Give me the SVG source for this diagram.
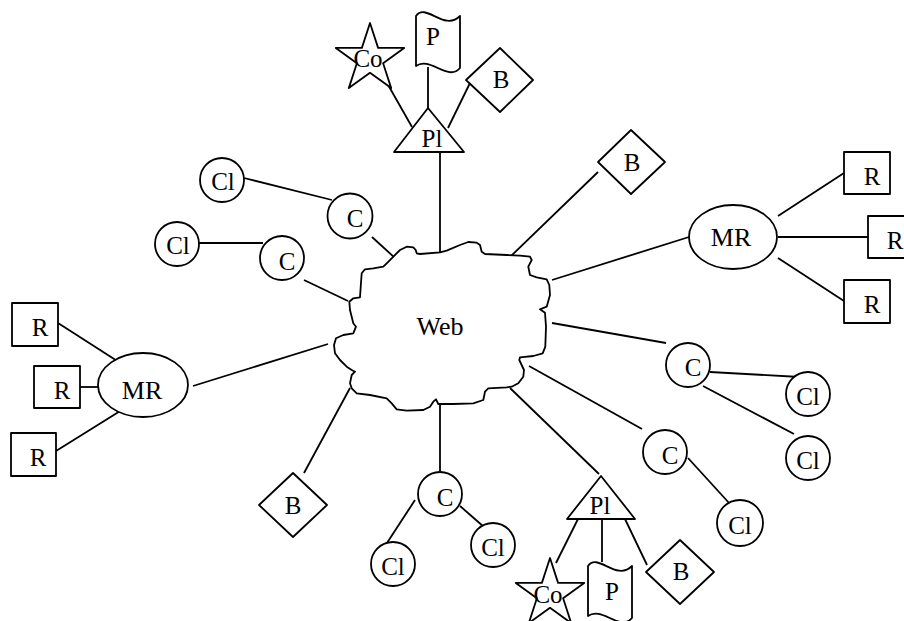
<svg xmlns="http://www.w3.org/2000/svg" width="904" height="621" viewBox="0 0 904 621">
  <defs>
    <style>
      .shape { fill: #ffffff; stroke: #000000; stroke-width: 1.8; stroke-linejoin: round; }
      .edge { stroke: #000000; stroke-width: 1.8; fill: none; stroke-linecap: butt; }
      .lbl { font-family: "Liberation Serif", "Times New Roman", serif; font-size: 25px; fill: #000000; text-anchor: middle; }
      .big { font-size: 26px; }
    </style>
    <!-- five-pointed star, outer radius 36 -->
    <polygon id="star" points="0,-36 8.1,-11.1 34.2,-11.1 13.1,4.2 21.2,29.1 0,13.8 -21.2,29.1 -13.1,4.2 -34.2,-11.1 -8.1,-11.1"/>
    <!-- wavy banner -->
    <path id="wave" d="M0,0 C10,-14 28,16 44,0 L44,52 C32,66 14,40 0,50 Z"/>
  </defs>
  <rect width="904" height="621" fill="#ffffff"/>

  <!-- connectors -->
  <g id="connectors" class="edge">
    <!-- upper portal cluster -->
    <line x1="387" y1="83" x2="412" y2="127"/>
    <line x1="428" y1="67" x2="428" y2="108"/>
    <line x1="470" y1="83" x2="448" y2="128"/>
    <line x1="440" y1="152" x2="440" y2="259"/>
    <!-- upper-left clients -->
    <line x1="244" y1="178" x2="332" y2="200"/>
    <line x1="372" y1="237" x2="395" y2="258"/>
    <line x1="199" y1="243" x2="263" y2="243"/>
    <line x1="304" y1="280" x2="348" y2="301"/>
    <!-- upper-right broker -->
    <line x1="598" y1="172" x2="510" y2="257"/>
    <!-- right meta-repository -->
    <line x1="552" y1="280" x2="689" y2="237"/>
    <line x1="778" y1="216" x2="844" y2="173"/>
    <line x1="778" y1="237" x2="868" y2="237"/>
    <line x1="778" y1="258" x2="844" y2="301"/>
    <!-- left meta-repository -->
    <line x1="193" y1="386" x2="328" y2="344"/>
    <line x1="58" y1="323" x2="125" y2="366"/>
    <line x1="80" y1="387" x2="102" y2="387"/>
    <line x1="56" y1="451" x2="125" y2="408"/>
    <!-- lower-left broker -->
    <line x1="304" y1="473" x2="350" y2="388"/>
    <!-- bottom client -->
    <line x1="440" y1="404" x2="440" y2="473"/>
    <line x1="415" y1="500" x2="385" y2="546"/>
    <line x1="460" y1="506" x2="484" y2="527"/>
    <!-- lower portal cluster -->
    <line x1="510" y1="388" x2="599" y2="474"/>
    <line x1="578" y1="519" x2="556" y2="563"/>
    <line x1="602" y1="519" x2="602" y2="562"/>
    <line x1="625" y1="519" x2="647" y2="565"/>
    <!-- right clients -->
    <line x1="552" y1="323" x2="666" y2="343"/>
    <line x1="710" y1="372" x2="800" y2="377"/>
    <line x1="703" y1="386" x2="794" y2="434"/>
    <line x1="529" y1="366" x2="642" y2="429"/>
    <line x1="688" y1="458" x2="730" y2="504"/>
  </g>

  <!-- central cloud -->
  <g id="web">
    <path class="shape" d="M391.7,258.3 L400,250 L406.7,246.7 L413.3,247.3 L415.7,250 L416.7,253.3 L420,254 L440,252.3 L446.7,250.7 L460,245 L468.3,242 L476.7,242.7 L480,245 L481.7,251.7 L485,254 L506.7,255 L520,255.7 L530,256.7 L531.7,260 L528.3,266.7 L530,275 L536.7,277.3 L546.7,279.3 L549.3,285 L550,295 L546.7,306.7 L540,309.3 L545,312.7 L546,326.7 L545.3,346.7 L542.7,353.3 L533.3,356 L520,357.3 L519.3,360 L524,370 L523.3,376.7 L518.3,383.3 L511.7,386.7 L506.7,387.3 L488.3,388.3 L485,391.7 L483.3,400 L473.3,403.3 L453.3,404 L438.3,404 L436,399.3 L433.3,401.7 L430,406.7 L423.3,410 L406.7,410.7 L396.7,409.3 L391.7,403.3 L386.7,398.3 L370,395 L356.7,393.3 L351.7,388.3 L350,383.3 L351.7,375 L355,371.7 L351.7,370 L346.7,366.7 L340,360 L335,353.3 L334,345 L336,338.3 L343.3,335 L353.3,333.3 L356,326.7 L353.3,323.3 L350,310 L349.3,301.7 L353.3,298.3 L360,297.3 L360.7,286.7 L361.7,273.3 L365,269.3 L373.3,268.3 L383.3,266.7 L386.7,263.3 Z"/>
    <text class="lbl big" x="440" y="335">Web</text>
  </g>

  <!-- upper portal cluster -->
  <g id="pl-top">
    <polygon class="shape" points="428,108 394,152 464,152"/>
    <text class="lbl" x="432" y="147">Pl</text>
  </g>
  <g id="co-top">
    <use href="#star" class="shape" transform="translate(370,59)"/>
    <text class="lbl" x="368" y="67">Co</text>
  </g>
  <g id="p-top">
    <use href="#wave" class="shape" transform="translate(416,16)"/>
    <text class="lbl" x="433" y="45">P</text>
  </g>
  <g id="b-top">
    <polygon class="shape" points="466,80 500,48 533,80 500,112"/>
    <text class="lbl" x="501" y="88">B</text>
  </g>

  <!-- upper-left clients -->
  <g id="cl-1">
    <circle class="shape" cx="222" cy="180" r="22"/>
    <text class="lbl" x="223" y="190">Cl</text>
  </g>
  <g id="c-1">
    <circle class="shape" cx="350" cy="216" r="22.5"/>
    <text class="lbl" x="355" y="227">C</text>
  </g>
  <g id="cl-2">
    <circle class="shape" cx="177" cy="244" r="22"/>
    <text class="lbl" x="178" y="254">Cl</text>
  </g>
  <g id="c-2">
    <circle class="shape" cx="282" cy="258" r="22"/>
    <text class="lbl" x="287" y="270">C</text>
  </g>

  <!-- upper-right broker -->
  <g id="b-right">
    <polygon class="shape" points="598,162 631,130 665,162 631,194"/>
    <text class="lbl" x="632" y="171">B</text>
  </g>

  <!-- right meta-repository -->
  <g id="mr-right">
    <ellipse class="shape" cx="733" cy="237" rx="44" ry="32"/>
    <text class="lbl big" x="731" y="246">MR</text>
  </g>
  <g id="r-1">
    <rect class="shape" x="844" y="152" width="46" height="42"/>
    <text class="lbl" x="872" y="185">R</text>
  </g>
  <g id="r-2">
    <rect class="shape" x="868" y="216" width="46" height="42"/>
    <text class="lbl" x="895" y="249">R</text>
  </g>
  <g id="r-3">
    <rect class="shape" x="844" y="280" width="46" height="43"/>
    <text class="lbl" x="872" y="313">R</text>
  </g>

  <!-- left meta-repository -->
  <g id="mr-left">
    <ellipse class="shape" cx="143" cy="385" rx="45" ry="32"/>
    <text class="lbl big" x="142" y="399">MR</text>
  </g>
  <g id="r-4">
    <rect class="shape" x="12" y="303" width="46" height="43"/>
    <text class="lbl" x="40" y="336">R</text>
  </g>
  <g id="r-5">
    <rect class="shape" x="34" y="366" width="46" height="42"/>
    <text class="lbl" x="62" y="399">R</text>
  </g>
  <g id="r-6">
    <rect class="shape" x="11" y="433" width="45" height="43"/>
    <text class="lbl" x="38" y="466">R</text>
  </g>

  <!-- lower-left broker -->
  <g id="b-left">
    <polygon class="shape" points="259,505 293,473 327,505 293,537"/>
    <text class="lbl" x="293" y="514">B</text>
  </g>

  <!-- bottom client -->
  <g id="c-3">
    <circle class="shape" cx="440" cy="494" r="22"/>
    <text class="lbl" x="445" y="506">C</text>
  </g>
  <g id="cl-3">
    <circle class="shape" cx="393" cy="564" r="22"/>
    <text class="lbl" x="393" y="575">Cl</text>
  </g>
  <g id="cl-4">
    <circle class="shape" cx="493" cy="545" r="22"/>
    <text class="lbl" x="493" y="556">Cl</text>
  </g>

  <!-- lower portal cluster -->
  <g id="pl-bottom">
    <polygon class="shape" points="601,476 567,519 635,519"/>
    <text class="lbl" x="600" y="514">Pl</text>
  </g>
  <g id="co-bottom">
    <use href="#star" class="shape" transform="translate(550,594)"/>
    <text class="lbl" x="548" y="603">Co</text>
  </g>
  <g id="p-bottom">
    <use href="#wave" class="shape" transform="translate(588,566)"/>
    <text class="lbl" x="612" y="600">P</text>
  </g>
  <g id="b-bottom">
    <polygon class="shape" points="646,572 680,540 714,572 680,604"/>
    <text class="lbl" x="681" y="580">B</text>
  </g>

  <!-- right clients -->
  <g id="c-4">
    <circle class="shape" cx="688" cy="365" r="22"/>
    <text class="lbl" x="693" y="376">C</text>
  </g>
  <g id="cl-5">
    <circle class="shape" cx="808" cy="394" r="22"/>
    <text class="lbl" x="808" y="405">Cl</text>
  </g>
  <g id="cl-6">
    <circle class="shape" cx="808" cy="458" r="22"/>
    <text class="lbl" x="808" y="469">Cl</text>
  </g>
  <g id="c-5">
    <circle class="shape" cx="665" cy="452" r="22"/>
    <text class="lbl" x="670" y="464">C</text>
  </g>
  <g id="cl-7">
    <circle class="shape" cx="740" cy="523" r="23"/>
    <text class="lbl" x="740" y="534">Cl</text>
  </g>
</svg>
